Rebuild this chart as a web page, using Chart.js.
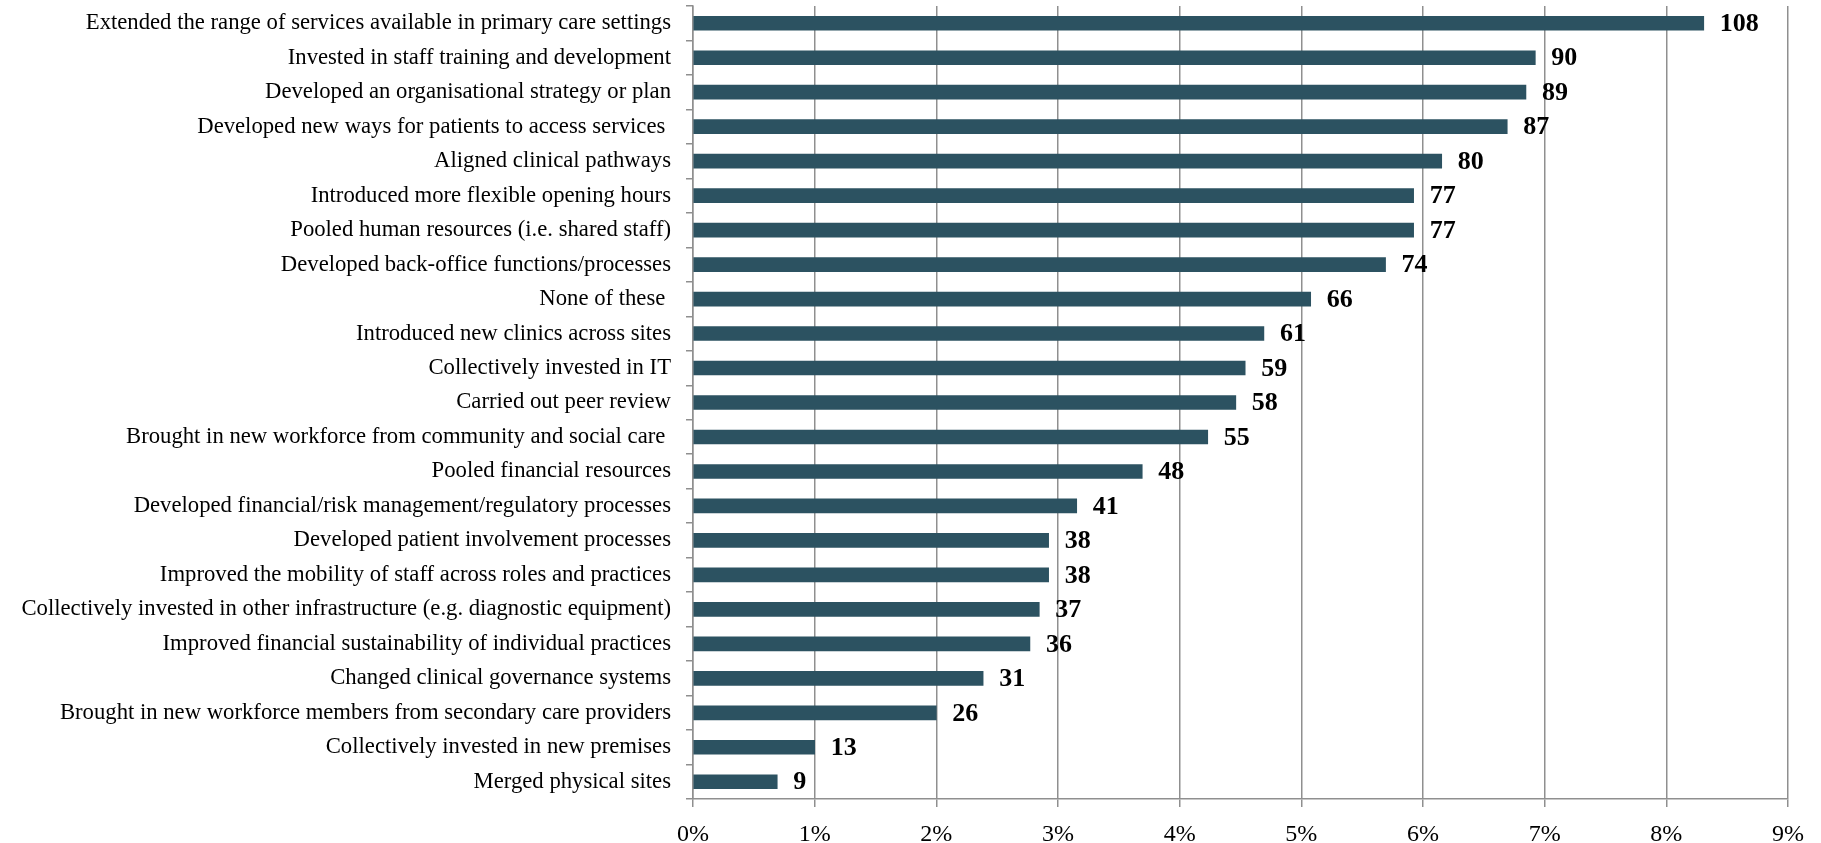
<!DOCTYPE html>
<html>
<head>
<meta charset="utf-8">
<title>Collaboration activities</title>
<script src="https://cdn.jsdelivr.net/npm/chart.js@4"></script>
<style>
    html, body { margin: 0; padding: 0; background: #ffffff; }
    #activityChart { display: block; }
</style>
</head>
<body>
<canvas id="activityChart" width="1821" height="843"></canvas>
<script>
// ==========================================
// DATA
// ==========================================

const activities = [
    'Extended the range of services available in primary care settings',
    'Invested in staff training and development',
    'Developed an organisational strategy or plan',
    'Developed new ways for patients to access services ',
    'Aligned clinical pathways',
    'Introduced more flexible opening hours',
    'Pooled human resources (i.e. shared staff)',
    'Developed back-office functions/processes',
    'None of these ',
    'Introduced new clinics across sites',
    'Collectively invested in IT',
    'Carried out peer review',
    'Brought in new workforce from community and social care ',
    'Pooled financial resources',
    'Developed financial/risk management/regulatory processes',
    'Developed patient involvement processes',
    'Improved the mobility of staff across roles and practices',
    'Collectively invested in other infrastructure (e.g. diagnostic equipment)',
    'Improved financial sustainability of individual practices',
    'Changed clinical governance systems',
    'Brought in new workforce members from secondary care providers',
    'Collectively invested in new premises',
    'Merged physical sites'
];

// number of responses per activity
const responseCounts = [108, 90, 89, 87, 80, 77, 77, 74, 66, 61, 59, 58, 55, 48, 41, 38, 38, 37, 36, 31, 26, 13, 9];

// all responses across the survey, used for the percentage axis
const totalResponses = 1300;

const percentTicks = [0, 1, 2, 3, 4, 5, 6, 7, 8, 9];

const percentages = responseCounts.map(c => c / totalResponses * 100);

// ==========================================
// COUNT LABELS AT BAR ENDS
// ==========================================

const countLabels = {
    id: 'countLabels',
    afterDatasetsDraw(chart) {
        const ctx = chart.ctx;
        const meta = chart.getDatasetMeta(0);
        ctx.save();
        ctx.font = 'bold 26px "Liberation Serif", serif';
        ctx.fillStyle = '#000000';
        ctx.textAlign = 'left';
        ctx.textBaseline = 'middle';
        meta.data.forEach((bar, i) => {
            ctx.fillText(String(responseCounts[i]), bar.x + 16, bar.y + 1);
        });
        ctx.restore();
    }
};

const gridGrey = '#8f8f8f';

new Chart(document.getElementById('activityChart'), {
    type: 'bar',
    data: {
        labels: activities,
        datasets: [{
            data: percentages,
            backgroundColor: '#2c5261',
            borderWidth: 0,
            barThickness: 14
        }]
    },
    options: {
        indexAxis: 'y',
        responsive: false,
        animation: false,
        layout: { padding: { top: 6, right: 33, bottom: 0, left: 0 } },
        plugins: {
            legend: { display: false },
            tooltip: { enabled: false }
        },
        scales: {
            x: {
                min: 0,
                max: 9,
                afterBuildTicks: scale => {
                    scale.ticks = percentTicks.map(v => ({ value: v }));
                },
                afterFit: scale => { scale.height = 44; },
                grid: {
                    color: gridGrey,
                    lineWidth: 1.5,
                    tickLength: 8,
                    tickColor: gridGrey
                },
                border: { color: gridGrey, width: 1.5 },
                ticks: {
                    padding: 13,
                    color: '#000000',
                    font: { family: '"Liberation Serif", serif', size: 24 },
                    callback: v => v + '%'
                }
            },
            y: {
                afterFit: scale => {
                    scale.width = 693;
                    // keep the first and last labels from pushing the plot inward
                    scale.paddingTop = 0;
                    scale.paddingBottom = 0;
                },
                grid: {
                    drawOnChartArea: false,
                    color: gridGrey,
                    lineWidth: 1.5,
                    tickLength: 7
                },
                border: { color: gridGrey, width: 1.5 },
                ticks: {
                    padding: 15,
                    color: '#000000',
                    autoSkip: false,
                    font: { family: '"Liberation Serif", serif', size: 22.7 }
                }
            }
        }
    },
    plugins: [countLabels]
});
</script>
</body>
</html>
